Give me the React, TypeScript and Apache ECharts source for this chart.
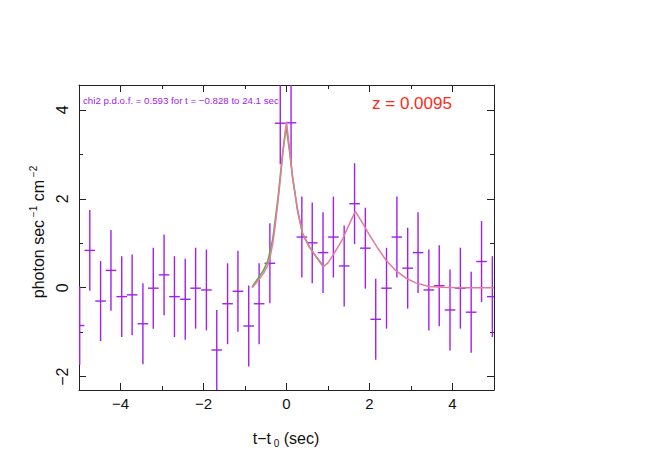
import React, { useEffect, useRef } from "react";
import * as echarts from "echarts";

// ---- data ----
const binTimes = [
  -5.0, -4.74, -4.48, -4.23, -3.97, -3.72, -3.46, -3.21, -2.95, -2.7,
  -2.44, -2.19, -1.93, -1.68, -1.42, -1.17, -0.91, -0.66, -0.4, -0.15,
  0.11, 0.37, 0.62, 0.88, 1.13, 1.39, 1.64, 1.9, 2.15, 2.41,
  2.66, 2.92, 3.17, 3.43, 3.68, 3.94, 4.19, 4.45, 4.7, 4.96,
];
const binRates = [
  -0.85, 0.84, -0.3, 0.39, -0.2, -0.16, -0.81, -0.01, 0.29, -0.2,
  -0.26, -0.01, -0.05, -1.4, -0.36, -0.08, -0.86, -0.36, 0.55, 3.7,
  3.71, 1.14, 1.01, 0.79, 1.14, 0.49, 1.89, 0.89, -0.71, -0.01,
  1.14, 0.44, 0.79, -0.05, 0.045, -0.5, -0.01, -0.55, 0.59, -0.2,
];
const binErrors = [
  0.88, 0.91, 0.9, 0.91, 0.91, 0.91, 0.91, 0.91, 0.91, 0.91,
  0.91, 0.91, 0.91, 0.9, 0.91, 0.91, 0.91, 0.91, 0.9, 0.92,
  0.92, 0.91, 0.91, 0.91, 0.91, 0.91, 0.91, 0.91, 0.91, 0.91,
  0.91, 0.91, 0.91, 0.91, 0.91, 0.91, 0.91, 0.91, 0.91, 0.91,
];
const binHalfWidth = 0.128;

const pinkTimes = [
  -0.828, -0.65, -0.55, -0.45, -0.39, -0.33, -0.27, -0.21, -0.15, -0.09, -0.04, 0.0,
  0.065, 0.145, 0.265, 0.385, 0.545, 0.705, 0.88, 1.0, 1.105, 1.346, 1.507, 1.66,
  1.829, 1.99, 2.19, 2.39, 2.63, 2.87, 3.11, 3.43, 3.75, 4.15, 5.0,
];
const pinkRates = [
  0.0, 0.2, 0.33, 0.5, 0.72, 1.0, 1.42, 1.9, 2.43, 3.03, 3.4, 3.74,
  3.19, 2.51, 1.76, 1.23, 0.93, 0.71, 0.47, 0.56, 0.71, 1.08, 1.42, 1.72,
  1.46, 1.2, 0.9, 0.63, 0.39, 0.22, 0.11, 0.03, 0.01, 0.0, 0.0,
];
const greenTimes = [
  -0.828, -0.65, -0.55, -0.45, -0.33, -0.21, -0.09, -0.01,
  0.07, 0.15, 0.27, 0.39, 0.55, 0.71, 0.88,
];
const greenRates = [
  0.02, 0.26, 0.4, 0.6, 1.1, 1.98, 3.05, 3.62,
  3.1, 2.45, 1.72, 1.2, 0.92, 0.7, 0.5,
];

const xRange = [-5, 5];
const yRange = [-2.3, 4.56];
const xMajorTicks = [-4, -2, 0, 2, 4];
const yMajorTicks = [-2, 0, 2, 4];
const yMinorTicks = [-2, -1, 0, 1, 2, 3, 4];

const chiText = "chi2 p.d.o.f. = 0.593 for t = \u22120.828 to 24.1 sec";
const zText = "z = 0.0095";

const FONT = "'Liberation Sans', Arial, Helvetica, sans-serif";
const FRAME = "#222";
const PURPLE = "#a020f0";
const PINK = "#e67a9c";
const GREEN = "#5cb04a";

const fmt = (v: number) => String(v).replace("-", "\u2212");
const clamp = (v: number, a: number, b: number) => Math.max(a, Math.min(b, v));

export default function App() {
  const ref = useRef<HTMLDivElement>(null);
  useEffect(() => {
    const chart = echarts.init(ref.current!, null, { renderer: "svg" });
    const lineStyle = { color: FRAME, width: 1 };
    const baseX = {
      type: "value" as const,
      min: xRange[0],
      max: xRange[1],
      interval: 1,
      splitLine: { show: false },
    };
    const baseY = {
      type: "value" as const,
      min: yRange[0],
      max: yRange[1],
      splitLine: { show: false },
    };
    const option: any = {
      animation: false,
      grid: { left: 79, right: 160, top: 85, bottom: 72, containLabel: false },
      xAxis: [
        {
          ...baseX,
          position: "bottom",
          axisLine: { show: true, onZero: false, lineStyle },
          axisTick: { show: true, inside: true, length: 4, lineStyle },
          axisLabel: {
            show: true,
            margin: 6,
            fontSize: 15,
            fontFamily: FONT,
            color: "#111",
            formatter: (v: number) => (xMajorTicks.includes(v) ? fmt(v) : ""),
          },
        },
        {
          ...baseX,
          position: "bottom",
          axisLine: { show: false, onZero: false },
          axisTick: { show: true, inside: true, length: 7, lineStyle, customValues: xMajorTicks },
          axisLabel: { show: false },
        },
        {
          ...baseX,
          position: "top",
          axisLine: { show: true, onZero: false, lineStyle },
          axisTick: { show: true, inside: true, length: 4, lineStyle },
          axisLabel: { show: false },
        },
        {
          ...baseX,
          position: "top",
          axisLine: { show: false, onZero: false },
          axisTick: { show: true, inside: true, length: 7, lineStyle, customValues: xMajorTicks },
          axisLabel: { show: false },
        },
      ],
      yAxis: [
        {
          ...baseY,
          position: "left",
          axisLine: { show: true, onZero: false, lineStyle },
          axisTick: { show: true, inside: true, length: 4, lineStyle, customValues: yMinorTicks },
          axisLabel: {
            show: true,
            rotate: 90,
            margin: 9,
            fontSize: 16,
            fontFamily: FONT,
            color: "#111",
            customValues: yMajorTicks,
            formatter: (v: number) => fmt(v),
          },
        },
        {
          ...baseY,
          position: "left",
          axisLine: { show: false, onZero: false },
          axisTick: { show: true, inside: true, length: 7, lineStyle, customValues: yMajorTicks },
          axisLabel: { show: false },
        },
        {
          ...baseY,
          position: "right",
          axisLine: { show: true, onZero: false, lineStyle },
          axisTick: { show: true, inside: true, length: 4, lineStyle, customValues: yMinorTicks },
          axisLabel: { show: false },
        },
        {
          ...baseY,
          position: "right",
          axisLine: { show: false, onZero: false },
          axisTick: { show: true, inside: true, length: 7, lineStyle, customValues: yMajorTicks },
          axisLabel: { show: false },
        },
      ],
      series: [
        {
          type: "custom",
          xAxisIndex: 0,
          yAxisIndex: 0,
          clip: true,
          encode: { x: 0, y: 1 },
          data: binTimes.map((t, i) => [t, binRates[i], binErrors[i]]),
          renderItem: (params: any, api: any) => {
            const cs = params.coordSys;
            const x0 = cs.x, x1 = cs.x + cs.width, y0 = cs.y, y1 = cs.y + cs.height;
            const x = api.value(0);
            const y = api.value(1);
            const e = api.value(2);
            const pl = api.coord([x - binHalfWidth, y]);
            const pr = api.coord([x + binHalfWidth, y]);
            const pt = api.coord([x, y + e]);
            const pb = api.coord([x, y - e]);
            const style = { stroke: PURPLE, lineWidth: 1.4 };
            const children: any[] = [];
            if (pl[1] >= y0 && pl[1] <= y1) {
              children.push({
                type: "line",
                shape: { x1: clamp(pl[0], x0, x1), y1: pl[1], x2: clamp(pr[0], x0, x1), y2: pr[1] },
                style,
              });
            }
            if (pt[0] >= x0 - 0.5 && pt[0] <= x1 + 0.5) {
              children.push({
                type: "line",
                shape: {
                  x1: clamp(pt[0], x0 + 0.7, x1 - 0.7),
                  y1: clamp(pt[1], y0, y1),
                  x2: clamp(pb[0], x0 + 0.7, x1 - 0.7),
                  y2: clamp(pb[1], y0, y1),
                },
                style,
              });
            }
            return { type: "group", children };
          },
        },
        {
          type: "line",
          xAxisIndex: 0,
          yAxisIndex: 0,
          showSymbol: false,
          symbol: "none",
          clip: true,
          lineStyle: { color: GREEN, width: 1.6 },
          data: greenTimes.map((t, i) => [t, greenRates[i]]),
        },
        {
          type: "line",
          xAxisIndex: 0,
          yAxisIndex: 0,
          showSymbol: false,
          symbol: "none",
          clip: true,
          lineStyle: { color: PINK, width: 1.5 },
          data: pinkTimes.map((t, i) => [t, pinkRates[i]]),
        },
      ],
      graphic: [
        {
          type: "text",
          x: 83,
          y: 100,
          style: {
            text: chiText,
            fill: PURPLE,
            fontSize: 9.7,
            fontFamily: FONT,
            align: "left",
            verticalAlign: "middle",
          },
          z: 10,
        },
        {
          type: "text",
          x: 412,
          y: 103,
          style: {
            text: zText,
            fill: "#ff2a1a",
            fontSize: 17,
            fontFamily: FONT,
            align: "center",
            verticalAlign: "middle",
          },
          z: 10,
        },
        {
          type: "text",
          x: 286,
          y: 438,
          style: {
            text: "{n|t\u2212t}{b| 0}{n| (sec)}",
            align: "center",
            verticalAlign: "middle",
            rich: {
              n: { fontSize: 16, fontFamily: FONT, fill: "#111", lineHeight: 20 },
              b: { fontSize: 10, fontFamily: FONT, fill: "#111", lineHeight: 12, verticalAlign: "bottom" },
            },
          },
        },
        {
          type: "text",
          x: 38,
          y: 232,
          rotation: Math.PI / 2,
          style: {
            text: "{n|photon sec}{s| \u22121}{n| cm}{s| \u22122}",
            align: "center",
            verticalAlign: "middle",
            rich: {
              n: { fontSize: 16, fontFamily: FONT, fill: "#111", lineHeight: 20 },
              s: { fontSize: 10, fontFamily: FONT, fill: "#111", lineHeight: 12, verticalAlign: "top" },
            },
          },
        },
      ],
    };
    chart.setOption(option);
    return () => chart.dispose();
  }, []);
  return (
    <div
      ref={ref}
      style={{ position: "absolute", left: 0, top: 0, width: 654, height: 462, background: "#fff" }}
    />
  );
}
